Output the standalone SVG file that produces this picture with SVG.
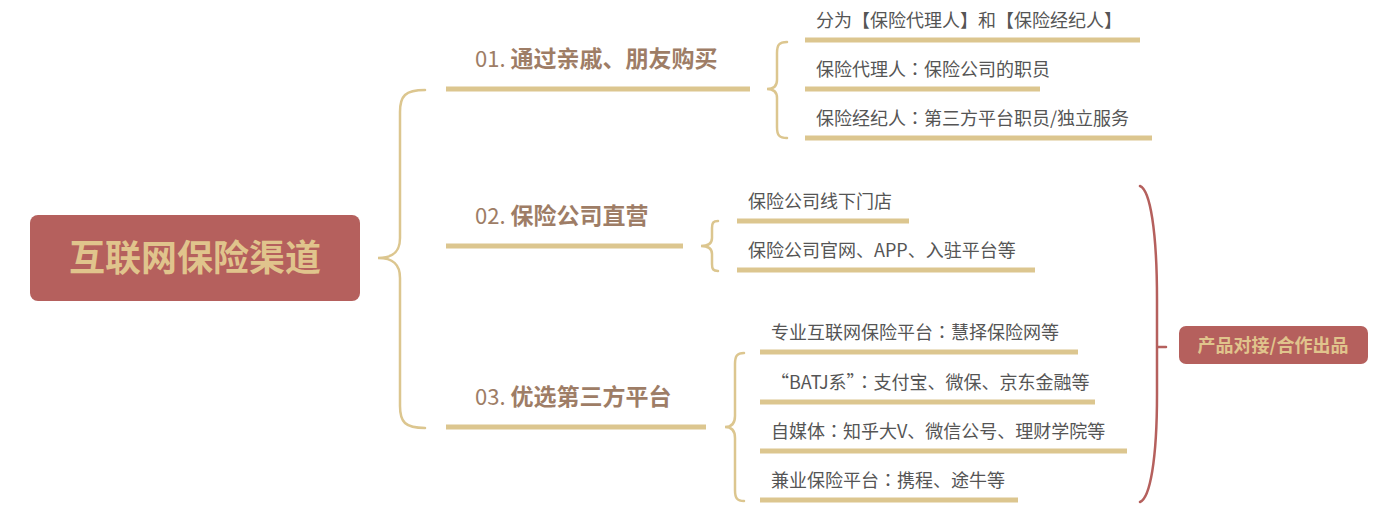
<svg xmlns="http://www.w3.org/2000/svg" width="1382" height="531" viewBox="0 0 1382 531">
<style>
.line{stroke:#DCC68F;stroke-width:5;fill:none}
.brace{stroke:#DCC68F;stroke-width:2.5;fill:none;stroke-linecap:round}
.rbrace{stroke:#B5605D;stroke-width:2.5;fill:none;stroke-linecap:round}
.main{font-family:"Noto Sans CJK SC",sans-serif;font-size:23px;font-weight:bold;fill:#9E7D66}
.num{font-weight:normal;font-size:22px}
.sub{font-family:"Noto Sans CJK SC",sans-serif;font-size:18px;fill:#555555}
.c{font-family:"Noto Sans CJK JP",sans-serif}
.rootbox{fill:#B5605D}
.roottext{font-family:"Noto Sans CJK SC",sans-serif;font-size:36px;font-weight:bold;fill:#E0C48C;text-anchor:middle}
.sumtext{font-family:"Noto Sans CJK SC",sans-serif;font-size:18px;font-weight:bold;fill:#E0C48C;text-anchor:middle}
</style>
<rect width="1382" height="531" fill="#ffffff"/>
<g id="connectors">
<path class="brace" d="M425,90 C405,90 400,96 400,112 L400,238 C400,252 393,258 378,258 C393,258 400,264 400,278 L400,406 C400,422 405,428 425,428"/>
<path class="brace" d="M787,42 C779,42 777,45 777,53 L777,80 C777,86 774,89 767,89 C774,89 777,92 777,98 L777,127 C777,135 779,138 787,138"/>
<path class="brace" d="M718,221 C713,221 712,223 712,228 L712,238 C712,243 709,246 701,246 C709,246 712,249 712,254 L712,264 C712,269 713,271 718,271"/>
<path class="brace" d="M744,353 C737,353 735,356 735,364 L735,416 C735,423 732,427 725,427 C732,427 735,431 735,438 L735,490 C735,498 737,501 744,501"/>
<path class="rbrace" d="M1140,186 C1150,190 1157,230 1157,300 L1157,347 L1166,347 M1157,347 L1157,394 C1157,460 1150,498 1140,502"/>
</g>
<g id="root">
<rect class="rootbox" x="30" y="215" width="330" height="86" rx="8"/>
<text class="roottext" x="195" y="271">互联网保险渠道</text>
</g>
<g id="branch1">
<line class="line" x1="446" y1="89" x2="750" y2="89"/>
<text class="main" x="475" y="67"><tspan class="num">01. </tspan>通过亲戚、朋友购买</text>
</g>
<g id="b1c1">
<line class="line" x1="805" y1="40" x2="1140" y2="40"/>
<text class="sub" x="816" y="27">分为【保险代理人】和【保险经纪人】</text>
</g>
<g id="b1c2">
<line class="line" x1="805" y1="89" x2="1040" y2="89"/>
<text class="sub" x="816" y="76">保险代理人<tspan class="c">：</tspan>保险公司的职员</text>
</g>
<g id="b1c3">
<line class="line" x1="805" y1="138" x2="1152" y2="138"/>
<text class="sub" x="816" y="125">保险经纪人<tspan class="c">：</tspan>第三方平台职员/独立服务</text>
</g>
<g id="branch2">
<line class="line" x1="446" y1="246" x2="683" y2="246"/>
<text class="main" x="475" y="224"><tspan class="num">02. </tspan>保险公司直营</text>
</g>
<g id="b2c1">
<line class="line" x1="737" y1="221" x2="909" y2="221"/>
<text class="sub" x="748" y="208">保险公司线下门店</text>
</g>
<g id="b2c2">
<line class="line" x1="737" y1="270" x2="1035" y2="270"/>
<text class="sub" x="748" y="257">保险公司官网、APP、入驻平台等</text>
</g>
<g id="branch3">
<line class="line" x1="446" y1="427" x2="706" y2="427"/>
<text class="main" x="475" y="405"><tspan class="num">03. </tspan>优选第三方平台</text>
</g>
<g id="b3c1">
<line class="line" x1="760" y1="352" x2="1078" y2="352"/>
<text class="sub" x="771" y="339">专业互联网保险平台<tspan class="c">：</tspan>慧择保险网等</text>
</g>
<g id="b3c2">
<line class="line" x1="760" y1="402" x2="1095" y2="402"/>
<text class="sub" x="771" y="389">“BATJ系”<tspan class="c">：</tspan>支付宝、微保、京东金融等</text>
</g>
<g id="b3c3">
<line class="line" x1="760" y1="451" x2="1127" y2="451"/>
<text class="sub" x="771" y="438">自媒体<tspan class="c">：</tspan>知乎大V、微信公号、理财学院等</text>
</g>
<g id="b3c4">
<line class="line" x1="760" y1="500" x2="1018" y2="500"/>
<text class="sub" x="771" y="487">兼业保险平台<tspan class="c">：</tspan>携程、途牛等</text>
</g>
<g id="summary">
<rect class="rootbox" x="1179" y="326" width="189" height="38" rx="7"/>
<text class="sumtext" x="1273" y="352">产品对接/合作出品</text>
</g>
</svg>
